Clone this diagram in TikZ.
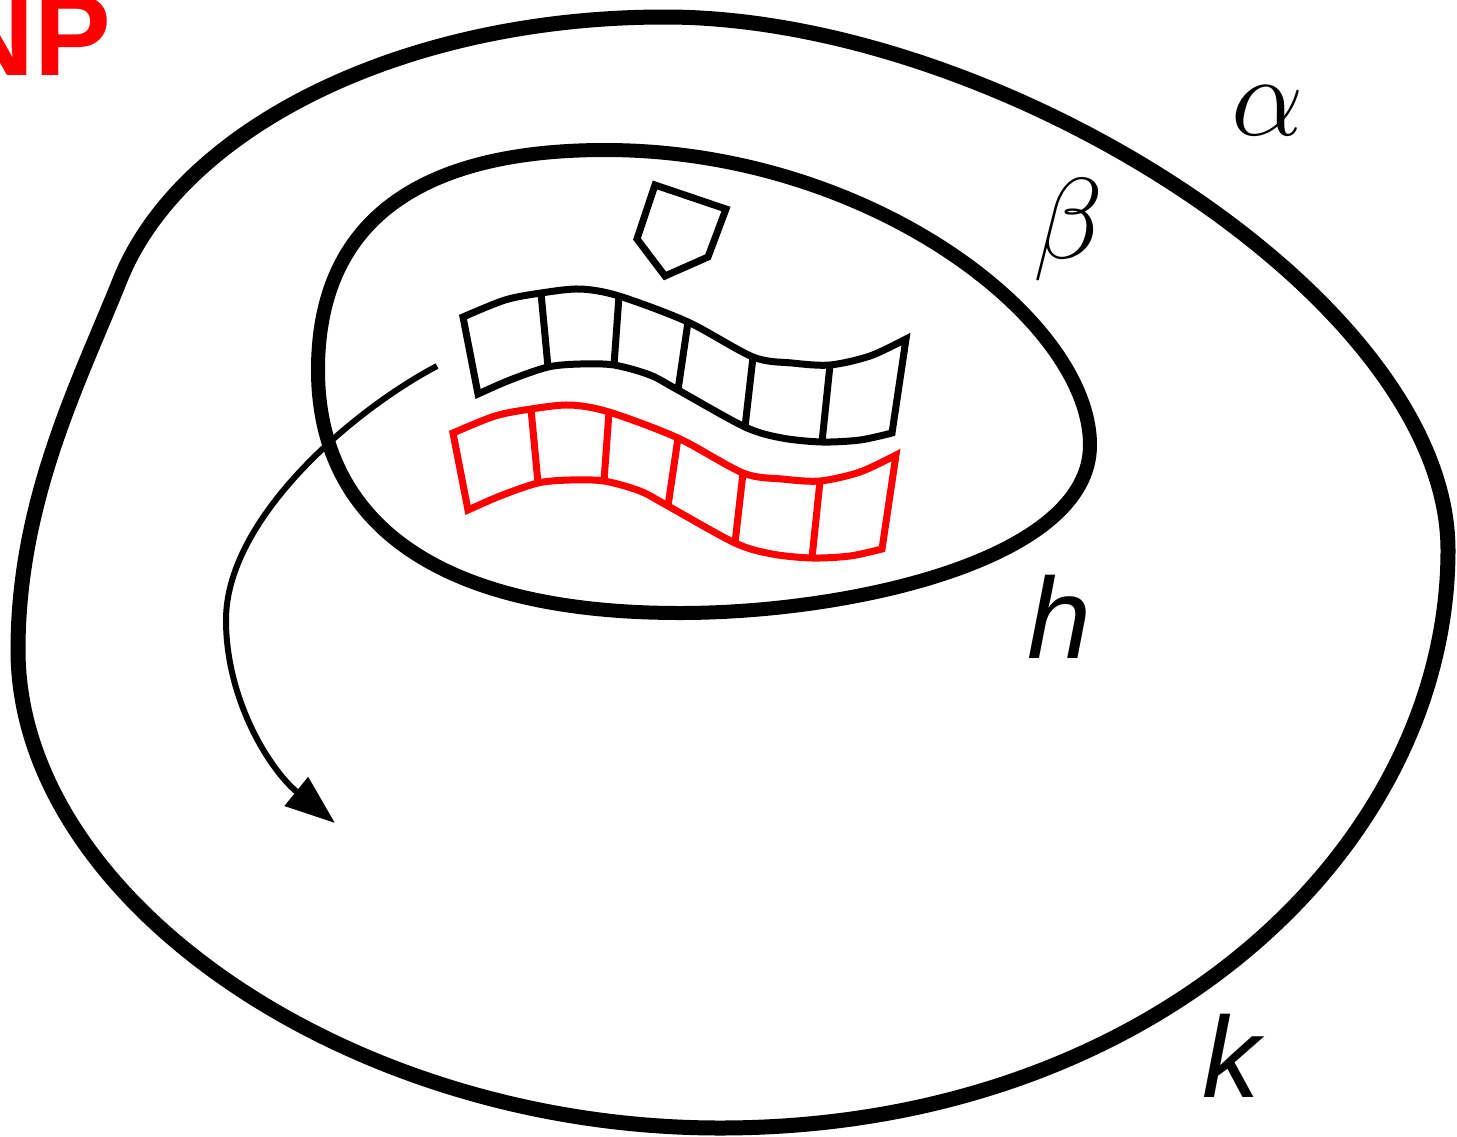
\RequirePackage{fix-cm}
\documentclass[tikz,border=0pt]{standalone}
\usepackage{fontspec}
\newfontfamily\labelfont{Liberation Sans}
\usetikzlibrary{arrows.meta}

\tikzset{
  bigloop/.style={line width=15pt},
  smallloop/.style={line width=14pt},
  cellline/.style={line width=7pt},
  flow/.style={line width=6pt,-{Triangle[length=50pt,width=36pt]}},
  greek/.style={inner sep=0pt,anchor=base,font=\fontsize{115}{120}\selectfont},
  latin/.style={inner sep=0pt,anchor=base,font=\fontsize{115}{120}\selectfont\labelfont\itshape}
}

\begin{document}
\begin{tikzpicture}[x=1pt,y=-1pt]
  \useasboundingbox (0,0) rectangle (1457,1136);
  \clip (0,0) rectangle (1457,1136);

  % outer region
  \draw[bigloop] (665,17) .. controls (1000,17) and (1448,300) .. (1448,550)
    .. controls (1448,850) and (1150,1128) .. (720,1128)
    .. controls (350,1128) and (18,900) .. (18,650)
    .. controls (18,500) and (80,380) .. (120,280)
    .. controls (180,130) and (400,17) .. cycle;

  % inner region
  \draw[smallloop] (605,150) .. controls (870,150) and (1090,320) .. (1090,445)
    .. controls (1090,560) and (850,613) .. (680,613)
    .. controls (420,613) and (318,510) .. (318,370)
    .. controls (318,200) and (450,150) .. cycle;

  % the two strips
  \foreach \dx/\dy/\col in {0/0/black, -10/116/red} {
    \begin{scope}[shift={(\dx,\dy)},cellline,draw=\col]
      \draw plot[smooth] coordinates {(463,317) (505,300) (541,293) (580,289)
        (619,296) (688,322) (753,357) (792,363) (830,365) (870,356) (906,339)}
        -- plot[smooth] coordinates {(892,433) (860,440) (822,442) (782,438)
        (745,427) (678,390) (650,375) (614,365) (580,364) (548,367) (510,380) (478,394)}
        -- cycle;
      \draw (541,293) -- (548,367);
      \draw (619,296) -- (614,365);
      \draw (688,322) -- (678,390);
      \draw (753,357) -- (745,427);
      \draw (830,365) -- (822,442);
    \end{scope}
  }

  % pentagon
  \draw[cellline] (655,185) -- (726,209) -- (708,257) -- (665,276) -- (637,239) -- cycle;

  % flow arrow
  \coordinate (flowstart) at (437,366);
  \coordinate (flowend) at (335,823);
  \draw[flow] (flowstart) .. controls (350,412) and (226,520) .. (226,620)
    .. controls (226,700) and (270,770) .. (flowend);

  % labels
  \node[greek] (alpha) at (1268,135) {$\alpha$};
  \node[greek] (beta) at (1068,258) {$\beta$};
  \node[latin] (h) at (1059,658) {h};
  \node[latin] (k) at (1231,1097) {k};
  \node[inner sep=0pt,anchor=base east,text=red,
    font=\fontsize{115}{120}\selectfont\labelfont\bfseries] (np) at (111,75) {NP};
\end{tikzpicture}
\end{document}
